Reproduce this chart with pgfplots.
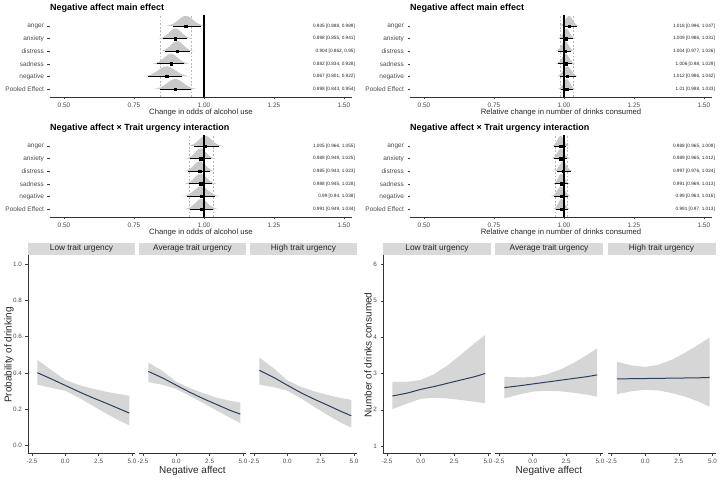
\documentclass[border=0pt]{standalone}
\usepackage{fontspec}
\setmainfont{Liberation Sans}
\usepackage{pgfplots}
\pgfplotsset{compat=1.18}
\usepackage{pgfplotstable}

\definecolor{navy}{RGB}{44,62,92}
\definecolor{band}{RGB}{214,214,214}
\definecolor{strip}{RGB}{217,217,217}
\definecolor{dens}{RGB}{200,200,200}
\definecolor{txt}{RGB}{77,77,77}

% shape of the posterior densities (in sd units)
\pgfplotstableread{
z h
-2.7 0
-2.2 0.089
-1.8 0.198
-1.4 0.375
-1.0 0.607
-0.6 0.835
-0.3 0.956
0 1
0.3 0.956
0.6 0.835
1.0 0.607
1.4 0.375
1.8 0.198
2.2 0.089
2.7 0
}\densshape

\pgfplotstableread{
row est lo hi
6 0.935 0.888 0.989
5 0.898 0.855 0.941
4 0.904 0.862 0.95
3 0.882 0.834 0.928
2 0.867 0.801 0.922
1 0.898 0.843 0.954
}\oddsmain

\pgfplotstableread{
row est lo hi
6 1.018 0.996 1.047
5 1.009 0.986 1.031
4 1.004 0.977 1.026
3 1.006 0.98 1.029
2 1.012 0.986 1.042
1 1.01 0.988 1.033
}\drinkmain

\pgfplotstableread{
row est lo hi
6 1.005 0.966 1.055
5 0.988 0.949 1.025
4 0.985 0.943 1.023
3 0.988 0.945 1.028
2 0.99 0.94 1.038
1 0.991 0.949 1.034
}\oddsint

\pgfplotstableread{
row est lo hi
6 0.988 0.965 1.009
5 0.989 0.965 1.012
4 0.997 0.976 1.024
3 0.991 0.969 1.013
2 0.99 0.963 1.016
1 0.991 0.97 1.013
}\drinkint

% marginal effects: fitted line (m) for the three facets
\pgfplotstableread{
x m1 m2 m3
-2.1 0.402 0.409 0.415
-1 0.366 0.372 0.375
0 0.332 0.333 0.333
1 0.298 0.295 0.293
2 0.266 0.260 0.257
3 0.236 0.228 0.224
4 0.205 0.196 0.190
4.8 0.180 0.174 0.165
}\probmean
% confidence band outline: upper edge left to right, lower edge right to left
\pgfplotstableread{
x b1 b2 b3
-2.1 0.473 0.458 0.486
-1 0.415 0.410 0.425
0 0.362 0.352 0.360
1 0.335 0.318 0.325
2 0.315 0.290 0.300
3 0.298 0.265 0.280
4 0.285 0.248 0.263
4.8 0.275 0.238 0.253
4.8 0.112 0.125 0.100
4 0.140 0.155 0.128
3 0.180 0.195 0.170
2 0.222 0.235 0.215
1 0.265 0.275 0.262
0 0.302 0.312 0.303
-1 0.318 0.335 0.322
-2.1 0.336 0.350 0.336
}\probband

\pgfplotstableread{
x m1 m2 m3
-2.1 2.38 2.61 2.85
-1 2.46 2.66 2.855
0 2.56 2.71 2.86
1 2.64 2.76 2.865
2 2.73 2.81 2.87
3 2.82 2.86 2.875
4 2.91 2.91 2.88
4.8 3.00 2.96 2.89
}\drinkmean
\pgfplotstableread{
x b1 b2 b3
-2.1 2.77 2.91 3.32
-1 2.77 2.89 3.22
0 2.82 2.90 3.18
1 2.98 2.97 3.24
2 3.22 3.10 3.38
3 3.52 3.28 3.58
4 3.83 3.50 3.80
4.8 4.06 3.69 3.99
4.8 2.18 2.36 2.08
4 2.22 2.42 2.22
3 2.27 2.47 2.36
2 2.31 2.51 2.46
1 2.33 2.52 2.53
0 2.30 2.50 2.55
-1 2.17 2.42 2.51
-2.1 2.02 2.31 2.43
}\drinkband

\pgfplotsset{
  forest/.style={
    scale only axis, width=302pt, height=82pt,
    xmin=0.45, xmax=1.529, ymin=0.37, ymax=6.87,
    axis x line*=bottom, axis y line*=left,
    y axis line style={draw=none},
    x axis line style={black!80, line width=0.6pt},
    tick align=outside, major tick length=2.5pt,
    tick style={black!75, line width=0.5pt},
    xtick={0.5,0.75,1,1.25,1.5},
    ytick={1,...,6},
    yticklabels={Pooled Effect,negative,sadness,distress,anxiety,anger},
    /pgf/number format/assume math mode=true,
    xticklabel style={/pgf/number format/fixed, /pgf/number format/fixed zerofill, /pgf/number format/precision=2},
    tick label style={font=\fontsize{6.5}{7}\selectfont, color=txt},
    xlabel style={at={(axis description cs:0.5,0)}, anchor=base, yshift=-17.8pt, font=\fontsize{7.7}{9}\selectfont, color=black!85},
    clip=false,
  },
  facet/.style={
    scale only axis, height=198pt,
    xmin=-2.8, xmax=5.23, xtick={-2.5,0,2.5,5},
    /pgf/number format/assume math mode=true,
    xticklabel style={/pgf/number format/fixed, /pgf/number format/fixed zerofill, /pgf/number format/precision=1},
    axis x line*=bottom, axis y line*=left,
    x axis line style={black!80, line width=0.6pt},
    y axis line style={black!80, line width=0.6pt},
    tick align=outside, major tick length=2.5pt,
    tick style={black!75, line width=0.5pt},
    tick label style={font=\fontsize{6.3}{7}\selectfont, color=txt},
    clip=false,
  },
  inner/.style={y axis line style={draw=none}, ytick=\empty},
  prob/.style={width=107pt, ymin=-0.04, ymax=1.05, ytick={0,0.2,0.4,0.6,0.8,1},
    yticklabel style={/pgf/number format/fixed, /pgf/number format/fixed zerofill, /pgf/number format/precision=1}},
  drinks/.style={width=108pt, ymin=0.81, ymax=6.26, ytick={1,...,6}},
  dashref/.style={black!28, line width=0.4pt, dash pattern=on 1.8pt off 1.8pt},
}

% density: estimate, lower, upper, row
\newcommand{\dens}[4]{%
  \addplot[fill=dens, draw=none] table[x expr={#1+(#3-#2)/3.92*\thisrow{z}}, y expr={#4+0.8*\thisrow{h}}]{\densshape};
}
\newcommand{\cibars}[1]{%
  \addplot[black, line width=1.2pt] coordinates {(1,0.37) (1,6.87)};
  \addplot[only marks, mark=square*, mark size=1.2pt, black,
    error bars/.cd, x dir=both, x explicit, error mark=none,
    error bar style={line width=0.9pt, black}]
    table[x=est, y=row, x error plus expr={\thisrow{hi}-\thisrow{est}}, x error minus expr={\thisrow{est}-\thisrow{lo}}]{#1};
}
\newcommand{\lab}[2]{\node[anchor=east, inner sep=0pt, font=\fontsize{4.7}{5}\selectfont, color=black!85] at (axis cs:1.54,#1) {#2};}

% facet body: band table, mean table, column index, strip text
\newcommand{\facetbody}[4]{%
  \addplot[fill=band, draw=none] table[x=x, y=b#3]{#1};
  \addplot[navy, line width=1pt, smooth] table[x=x, y=m#3]{#2};
  \path[fill=strip] (rel axis cs:0,1) rectangle ([yshift=12pt]rel axis cs:1,1);
  \node[font=\fontsize{8.3}{9}\selectfont, color=black!85] at ([yshift=6pt]rel axis cs:0.5,1) {\strut #4};
}
\newcommand{\ftitle}[2]{\node[anchor=base west, inner sep=0pt, font=\bfseries\fontsize{9}{10}\selectfont] at #1 {#2};}
\newcommand{\bigtext}{\fontsize{10}{12}\selectfont}

\begin{document}
\begin{tikzpicture}
\useasboundingbox (0pt,0pt) rectangle (720pt,480pt);

% forest plots
\ftitle{(50pt,469.8pt)}{Negative affect main effect}
\ftitle{(410pt,469.8pt)}{Negative affect main effect}
\ftitle{(50pt,349.8pt)}{Negative affect × Trait urgency interaction}
\ftitle{(410pt,349.8pt)}{Negative affect × Trait urgency interaction}

\begin{axis}[forest, at={(50pt,383pt)}, anchor=south west, xlabel={Change in odds of alcohol use}]
\addplot[dashref] coordinates {(0.843,0.37) (0.843,6.87)};
\addplot[dashref] coordinates {(0.954,0.37) (0.954,6.87)};
\dens{0.935}{0.888}{0.989}{6}
\dens{0.898}{0.855}{0.941}{5}
\dens{0.904}{0.862}{0.95}{4}
\dens{0.882}{0.834}{0.928}{3}
\dens{0.867}{0.801}{0.922}{2}
\dens{0.898}{0.843}{0.954}{1}
\cibars{\oddsmain}
\lab{6}{0.935 [0.888, 0.989]}
\lab{5}{0.898 [0.855, 0.941]}
\lab{4}{0.904 [0.862, 0.95]}
\lab{3}{0.882 [0.834, 0.928]}
\lab{2}{0.867 [0.801, 0.922]}
\lab{1}{0.898 [0.843, 0.954]}
\end{axis}

\begin{axis}[forest, at={(410pt,383pt)}, anchor=south west, xlabel={Relative change in number of drinks consumed}]
\addplot[dashref] coordinates {(0.988,0.37) (0.988,6.87)};
\addplot[dashref] coordinates {(1.033,0.37) (1.033,6.87)};
\dens{1.018}{0.996}{1.047}{6}
\dens{1.009}{0.986}{1.031}{5}
\dens{1.004}{0.977}{1.026}{4}
\dens{1.006}{0.98}{1.029}{3}
\dens{1.012}{0.986}{1.042}{2}
\dens{1.01}{0.988}{1.033}{1}
\cibars{\drinkmain}
\lab{6}{1.018 [0.996, 1.047]}
\lab{5}{1.009 [0.986, 1.031]}
\lab{4}{1.004 [0.977, 1.026]}
\lab{3}{1.006 [0.98, 1.029]}
\lab{2}{1.012 [0.986, 1.042]}
\lab{1}{1.01 [0.988, 1.033]}
\end{axis}

\begin{axis}[forest, at={(50pt,263pt)}, anchor=south west, xlabel={Change in odds of alcohol use}]
\addplot[dashref] coordinates {(0.949,0.37) (0.949,6.87)};
\addplot[dashref] coordinates {(1.034,0.37) (1.034,6.87)};
\dens{1.005}{0.966}{1.055}{6}
\dens{0.988}{0.949}{1.025}{5}
\dens{0.985}{0.943}{1.023}{4}
\dens{0.988}{0.945}{1.028}{3}
\dens{0.99}{0.94}{1.038}{2}
\dens{0.991}{0.949}{1.034}{1}
\cibars{\oddsint}
\lab{6}{1.005 [0.966, 1.055]}
\lab{5}{0.988 [0.949, 1.025]}
\lab{4}{0.985 [0.943, 1.023]}
\lab{3}{0.988 [0.945, 1.028]}
\lab{2}{0.99 [0.94, 1.038]}
\lab{1}{0.991 [0.949, 1.034]}
\end{axis}

\begin{axis}[forest, at={(410pt,263pt)}, anchor=south west, xlabel={Relative change in number of drinks consumed}]
\addplot[dashref] coordinates {(0.97,0.37) (0.97,6.87)};
\addplot[dashref] coordinates {(1.013,0.37) (1.013,6.87)};
\dens{0.988}{0.965}{1.009}{6}
\dens{0.989}{0.965}{1.012}{5}
\dens{0.997}{0.976}{1.024}{4}
\dens{0.991}{0.969}{1.013}{3}
\dens{0.99}{0.963}{1.016}{2}
\dens{0.991}{0.97}{1.013}{1}
\cibars{\drinkint}
\lab{6}{0.988 [0.965, 1.009]}
\lab{5}{0.989 [0.965, 1.012]}
\lab{4}{0.997 [0.976, 1.024]}
\lab{3}{0.991 [0.969, 1.013]}
\lab{2}{0.99 [0.963, 1.016]}
\lab{1}{0.991 [0.97, 1.013]}
\end{axis}

% marginal effects, probability of drinking
\begin{axis}[facet, prob, at={(28pt,27pt)}, anchor=south west]
\facetbody{\probband}{\probmean}{1}{Low trait urgency}
\end{axis}
\begin{axis}[facet, prob, inner, at={(139pt,27pt)}, anchor=south west]
\facetbody{\probband}{\probmean}{2}{Average trait urgency}
\end{axis}
\begin{axis}[facet, prob, inner, at={(250pt,27pt)}, anchor=south west]
\facetbody{\probband}{\probmean}{3}{High trait urgency}
\end{axis}

% marginal effects, number of drinks
\begin{axis}[facet, drinks, at={(383pt,27pt)}, anchor=south west]
\facetbody{\drinkband}{\drinkmean}{1}{Low trait urgency}
\end{axis}
\begin{axis}[facet, drinks, inner, at={(495pt,27pt)}, anchor=south west]
\facetbody{\drinkband}{\drinkmean}{2}{Average trait urgency}
\end{axis}
\begin{axis}[facet, drinks, inner, at={(607.5pt,27pt)}, anchor=south west]
\facetbody{\drinkband}{\drinkmean}{3}{High trait urgency}
\end{axis}

\node[rotate=90, anchor=base, font=\bigtext, color=black!85] at (11.6pt,125pt) {Probability of drinking};
\node[rotate=90, anchor=base, font=\bigtext, color=black!85] at (371.6pt,125pt) {Number of drinks consumed};
\node[anchor=base, font=\bigtext, color=black!85] at (192.5pt,6.4pt) {Negative affect};
\node[anchor=base, font=\bigtext, color=black!85] at (549pt,6.4pt) {Negative affect};
\end{tikzpicture}
\end{document}
